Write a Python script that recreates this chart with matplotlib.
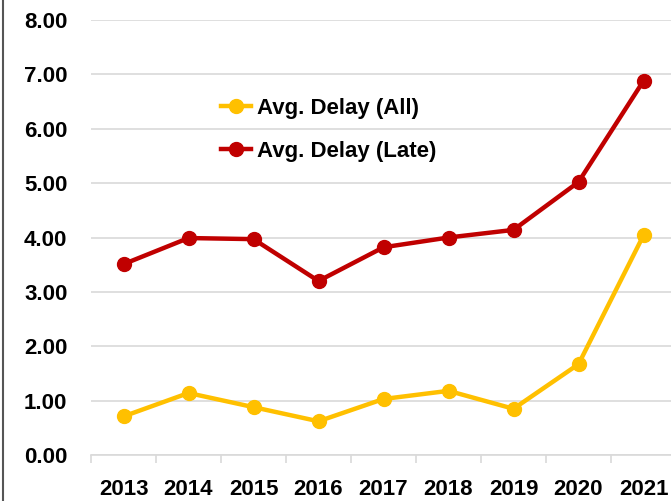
import matplotlib.pyplot as plt
from matplotlib.lines import Line2D
import numpy as np

years = ["2013", "2014", "2015", "2016", "2017", "2018", "2019", "2020", "2021"]
delay_all = [0.71, 1.14, 0.88, 0.62, 1.03, 1.18, 0.85, 1.67, 4.04]
delay_late = [3.51, 3.99, 3.97, 3.20, 3.82, 4.00, 4.14, 5.02, 6.88]

plt.rcParams['font.family'] = ['Liberation Sans', 'DejaVu Sans']
plt.rcParams['font.weight'] = 'bold'

fig = plt.figure(figsize=(6.71, 5.01), dpi=100)
ax = fig.add_axes([91 / 671, 46 / 501, 585 / 671, 435 / 501])

x = np.arange(len(years))
ax.plot(x, delay_all, color="#FFC000", lw=3.2, marker="o", ms=10, label="Avg. Delay (All)")
ax.plot(x, delay_late, color="#C00000", lw=3.2, marker="o", ms=10, label="Avg. Delay (Late)")

ax.set_xlim(-0.5, len(years) - 0.5)
ax.set_ylim(0, 8)
ax.set_yticks(np.arange(0, 9, 1))
ax.set_yticklabels([f"{v:.2f}" for v in range(9)], fontsize=16, fontweight="bold")
ax.set_xticks(x)
ax.set_xticklabels(years, fontsize=16, fontweight="bold")
ax.set_xticks(np.arange(-0.5, len(years), 1), minor=True)

ax.grid(axis="y", color="#d9d9d9", lw=1.2)
ax.set_axisbelow(True)
for s in ["top", "right", "left"]:
    ax.spines[s].set_visible(False)
ax.spines["bottom"].set_color("#d9d9d9")
ax.spines["bottom"].set_linewidth(1.2)
ax.tick_params(axis="y", length=0, pad=17)
ax.tick_params(axis="x", which="major", length=0, pad=17)
ax.tick_params(axis="x", which="minor", length=6, color="#d9d9d9", width=1.2)

ax.legend(loc="upper left", bbox_to_anchor=(201 / 671, 1 - 78 / 501),
          bbox_transform=fig.transFigure, frameon=False, fontsize=16,
          handlelength=1.35, handletextpad=0.25, labelspacing=1.0)

fig.add_artist(Line2D([2.5 / 671, 2.5 / 671], [0, 1], color="#555555", lw=1.5,
                      transform=fig.transFigure))

fig.savefig("out.png", dpi=100)
